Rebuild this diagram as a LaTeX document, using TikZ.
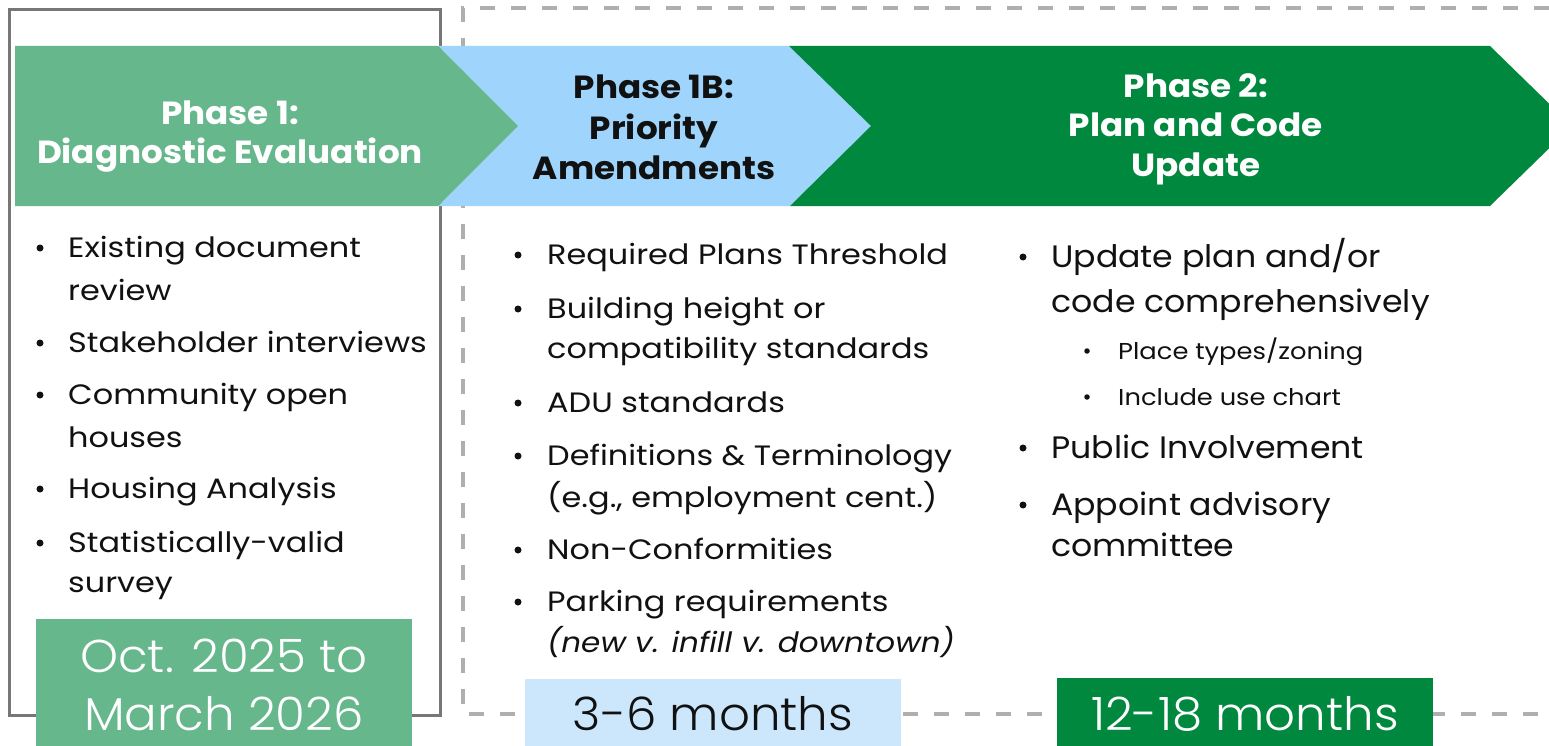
\documentclass[tikz,border=0pt]{standalone}
\usepackage{fontspec}
\setmainfont{Poppins}
\newfontfamily\lightfont{Poppins Light}[FakeStretch=1.05]
\newfontfamily\bodyfont{Poppins}[FakeStretch=1.14]
\newfontfamily\slantfont{Poppins}[FakeStretch=1.11]
\newfontfamily\widefont{Poppins}[FakeStretch=1.07]
\newfontfamily\smallfont{Poppins}[FakeStretch=1.12]
\newfontfamily\titlefont{Poppins}[FakeStretch=1.07]
\definecolor{lgreen}{HTML}{66B88C}
\definecolor{lblue}{HTML}{9FD5FC}
\definecolor{dgreen}{HTML}{00893E}
\definecolor{pblue}{HTML}{CCE7FB}
\definecolor{boxgray}{HTML}{777777}
\definecolor{dashgray}{HTML}{AFAFAF}
\definecolor{ink}{HTML}{111111}
\begin{document}
\begin{tikzpicture}[x=1pt,y=-1pt,
  hdr/.style={anchor=base, inner sep=0pt, font=\titlefont\fontsize{32}{32}\selectfont\bfseries},
  body/.style={anchor=base west, inner sep=0pt, text=ink, font=\bodyfont\fontsize{28}{28}\selectfont},
  bodyL/.style={anchor=base west, inner sep=0pt, text=ink, font=\widefont\fontsize{31}{31}\selectfont},
  bodyS/.style={anchor=base west, inner sep=0pt, text=ink, font=\smallfont\fontsize{23}{23}\selectfont},
  dot/.style={circle, fill=ink, inner sep=0pt, minimum size=7pt},
  dotS/.style={circle, fill=ink, inner sep=0pt, minimum size=5.5pt},
  datetext/.style={anchor=base, inner sep=0pt, font=\lightfont\fontsize{46}{46}\selectfont}]
\useasboundingbox (0,0) rectangle (1549,746);
\clip (0,0) rectangle (1549,746);
\fill[white] (0,0) rectangle (1549,746);

% frames around the phases
\draw[boxgray, line width=3pt] (9,10) rectangle (440,715);
\draw[dashgray, line width=3.5pt, dash pattern=on 15pt off 16pt]
  (1600,714) -- (463,714) -- (463,8) -- (1600,8);

% phase arrows
\fill[lblue] (438,46) -- (789,46) -- (871,126) -- (790,206) -- (438,206) -- (518,126) -- cycle;
\fill[lgreen] (15,46) -- (438,46) -- (518,126) -- (438,206) -- (15,206) -- cycle;
\fill[dgreen] (789,46) -- (1490,46) -- (1572,126) -- (1490,206) -- (790,206) -- (871,126) -- cycle;

% phase titles
\node[hdr, text=white] (h1a) at (230,125) {Phase 1:};
\node[hdr, text=white] (h1b) at (230,164) {Diagnostic Evaluation};
\node[hdr, text=ink] (h2a) at (654,99) {Phase 1B:};
\node[hdr, text=ink] (h2b) at (654,140) {Priority};
\node[hdr, text=ink] (h2c) at (654,180) {Amendments};
\node[hdr, text=white] (h3a) at (1196,98) {Phase 2:};
\node[hdr, text=white] (h3b) at (1196,137) {Plan and Code};
\node[hdr, text=white] (h3c) at (1196,177) {Update};

% phase 1 tasks
\node[dot] (d1a) at (40,248) {};
\node[body] (t1a) at (68,257) {Existing document};
\node[body] (t1a2) at (68,300) {review};
\node[dot] (d1b) at (40,343) {};
\node[body] (t1b) at (68,352) {Stakeholder interviews};
\node[dot] (d1c) at (40,395) {};
\node[body] (t1c) at (68,404) {Community open};
\node[body] (t1c2) at (68,447) {houses};
\node[dot] (d1d) at (40,489) {};
\node[body] (t1d) at (68,498) {Housing Analysis};
\node[dot] (d1e) at (40,543) {};
\node[body] (t1e) at (68,552) {Statistically-valid};
\node[body] (t1e2) at (68,592) {survey};

% phase 1B tasks
\node[dot] (d2a) at (518,255) {};
\node[body] (t2a) at (547,264) {Required Plans Threshold};
\node[dot] (d2b) at (518,309) {};
\node[body] (t2b) at (547,318) {Building height or};
\node[body] (t2b2) at (547,358) {compatibility standards};
\node[dot] (d2c) at (518,403) {};
\node[body] (t2c) at (547,412) {ADU standards};
\node[dot] (d2d) at (518,456) {};
\node[body] (t2d) at (547,465) {Definitions \& Terminology};
\node[body] (t2d2) at (547,507) {(e.g., employment cent.)};
\node[dot] (d2e) at (518,550) {};
\node[body] (t2e) at (547,559) {Non-Conformities};
\node[dot] (d2f) at (518,602) {};
\node[body] (t2f) at (547,611) {Parking requirements};
\node[body, font=\slantfont\fontsize{28}{28}\selectfont\itshape] (t2f2) at (547,652) {(new v. infill v. downtown)};

% phase 2 tasks
\node[dot] (d3a) at (1023,257) {};
\node[bodyL] (t3a) at (1051,267) {Update plan and/or};
\node[bodyL] (t3a2) at (1051,312) {code comprehensively};
\node[dotS] (d3b) at (1087,351) {};
\node[bodyS] (t3b) at (1118,359) {Place types/zoning};
\node[dotS] (d3c) at (1087,397) {};
\node[bodyS] (t3c) at (1118,405) {Include use chart};
\node[dot] (d3d) at (1023,448) {};
\node[bodyL] (t3d) at (1051,458) {Public Involvement};
\node[dot] (d3e) at (1023,505) {};
\node[bodyL] (t3e) at (1051,515) {Appoint advisory};
\node[bodyL] (t3e2) at (1051,556) {committee};

% durations
\fill[lgreen] (36,619) rectangle (412,760);
\node[datetext, text=white] (dur1a) at (224,672) {Oct. 2025 to};
\node[datetext, text=white] (dur1b) at (224,730) {March 2026};
\fill[pblue] (525,679) rectangle (901,760);
\node[datetext, text=ink] (dur2) at (713,730) {3-6 months};
\fill[dgreen] (1057,678) rectangle (1433,760);
\node[datetext, text=white] (dur3) at (1245,730) {12-18 months};
\end{tikzpicture}
\end{document}
